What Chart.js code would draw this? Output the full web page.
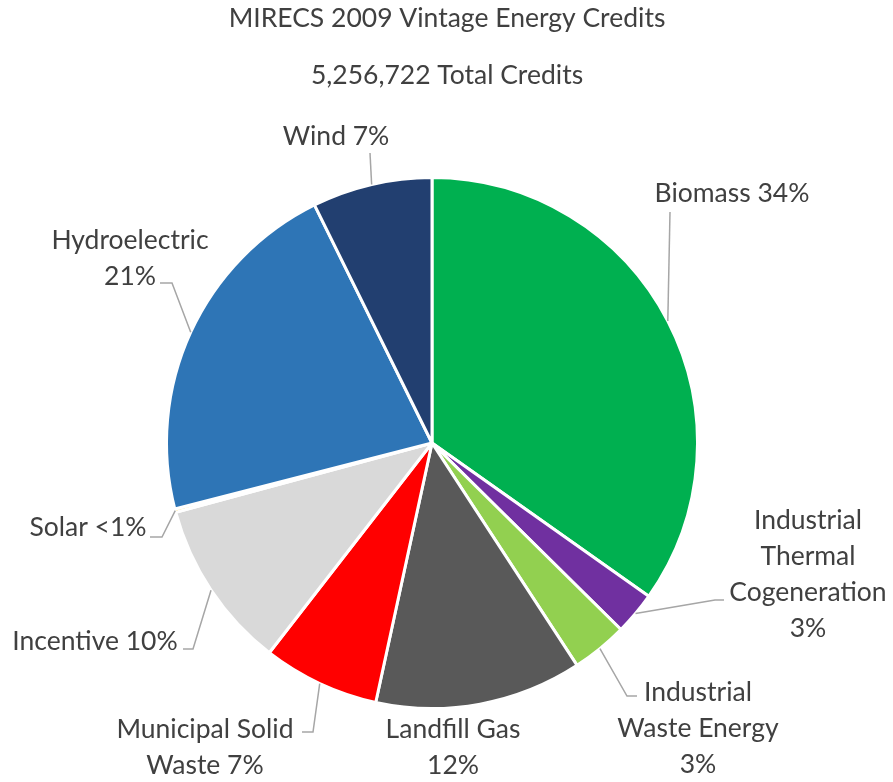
<!DOCTYPE html>
<html>
<head>
<meta charset="utf-8">
<script src="https://cdn.jsdelivr.net/npm/chart.js@4.4.0/dist/chart.umd.min.js"></script>
<style>
	body { margin: 0; background: #fff; }
	#wrap { width: 893px; height: 782px; }
</style>
</head>
<body>
<div id="wrap"><canvas id="mirecs" width="893" height="782"></canvas></div>
<script>

/*  Data  */
let categories = ['Biomass', 'Industrial Thermal Cogeneration', 'Industrial Waste Energy', 'Landfill Gas',
	'Municipal Solid Waste', 'Incentive', 'Solar', 'Hydroelectric', 'Wind'];
let shares = [34.8, 2.6, 3.4, 12.6, 7.1, 10.3, 0.2, 21.7, 7.3];
let labelLines = [
	['Biomass 34%'],
	['Industrial', 'Thermal', 'Cogeneration', '3%'],
	['Industrial', 'Waste Energy', '3%'],
	['Landfill Gas', '12%'],
	['Municipal Solid', 'Waste 7%'],
	['Incentive 10%'],
	['Solar <1%'],
	['Hydroelectric', '21%'],
	['Wind 7%']
];
let titleLines = ['MIRECS 2009 Vintage Energy Credits', '5,256,722 Total Credits'];

let colors = ['#00B050', '#7030A0', '#92D050', '#595959', '#FF0000', '#D9D9D9', '#FFC000', '#2E75B6', '#223F70'];

/*  Label placement, offsets from the pie centre (text centre of first line + leader bends)  */
let labelPlace = [
	{ x: 300, y: -250, leader: [[238, -231]] },
	{ x: 376, y: 77, leader: [[283, 157], [292, 157]] },
	{ x: 266, y: 249, leader: [[195, 253], [205, 253]] },
	{ x: 21, y: 286, leader: null },
	{ x: -227, y: 286, leader: [[-119, 289], [-130, 289]] },
	{ x: -337, y: 198, leader: [[-239, 206], [-249, 206]] },
	{ x: -344, y: 84, leader: [[-270, 94], [-282, 94]] },
	{ x: -302, y: -203, leader: [[-260, -160], [-272, -160]] },
	{ x: -96, y: -307, leader: [[-62, -290]] }
];

let textColor = '#404040';
let fontName = 'Lato';
let fontSize = 26.5;
let lineGap = 36;

let labelPlugin = {
	id: 'pieLabels',
	afterDraw(chart) {
		let ctx = chart.ctx;
		let arcs = chart.getDatasetMeta(0).data;
		ctx.save();
		ctx.font = fontSize + 'px ' + fontName;
		ctx.fillStyle = textColor;
		ctx.textAlign = 'center';
		ctx.textBaseline = 'middle';

		// titles
		ctx.fillText(titleLines[0], 447, 18);
		ctx.fillText(titleLines[1], 447, 75);

		for (let i = 0; i < arcs.length; i++) {
			let arc = arcs[i];
			let place = labelPlace[i];
			let mid = (arc.startAngle + arc.endAngle) / 2;

			if (place.leader) {
				ctx.strokeStyle = '#A6A6A6';
				ctx.lineWidth = 1.5;
				ctx.beginPath();
				ctx.moveTo(arc.x + Math.cos(mid) * arc.outerRadius, arc.y + Math.sin(mid) * arc.outerRadius);
				place.leader.forEach(function (p) {
					ctx.lineTo(arc.x + p[0], arc.y + p[1]);
				});
				ctx.stroke();
			}

			let lines = labelLines[i];
			for (let j = 0; j < lines.length; j++) {
				ctx.fillText(lines[j], arc.x + place.x, arc.y + place.y + j * lineGap);
			}
		}
		ctx.restore();
	}
};

let ctxP = document.getElementById('mirecs').getContext('2d');
let pieChart = new Chart(ctxP, {
	type: 'pie',
	data: {
		labels: categories,
		datasets: [{
			data: shares,
			backgroundColor: colors,
			borderColor: '#ffffff',
			borderWidth: 3
		}]
	},
	options: {
		responsive: false,
		devicePixelRatio: 1,
		animation: false,
		layout: {
			padding: { top: 176, left: 165, right: 194, bottom: 72 }
		},
		plugins: {
			legend: { display: false },
			tooltip: { enabled: false }
		}
	},
	plugins: [labelPlugin]
});
</script>
</body>
</html>
